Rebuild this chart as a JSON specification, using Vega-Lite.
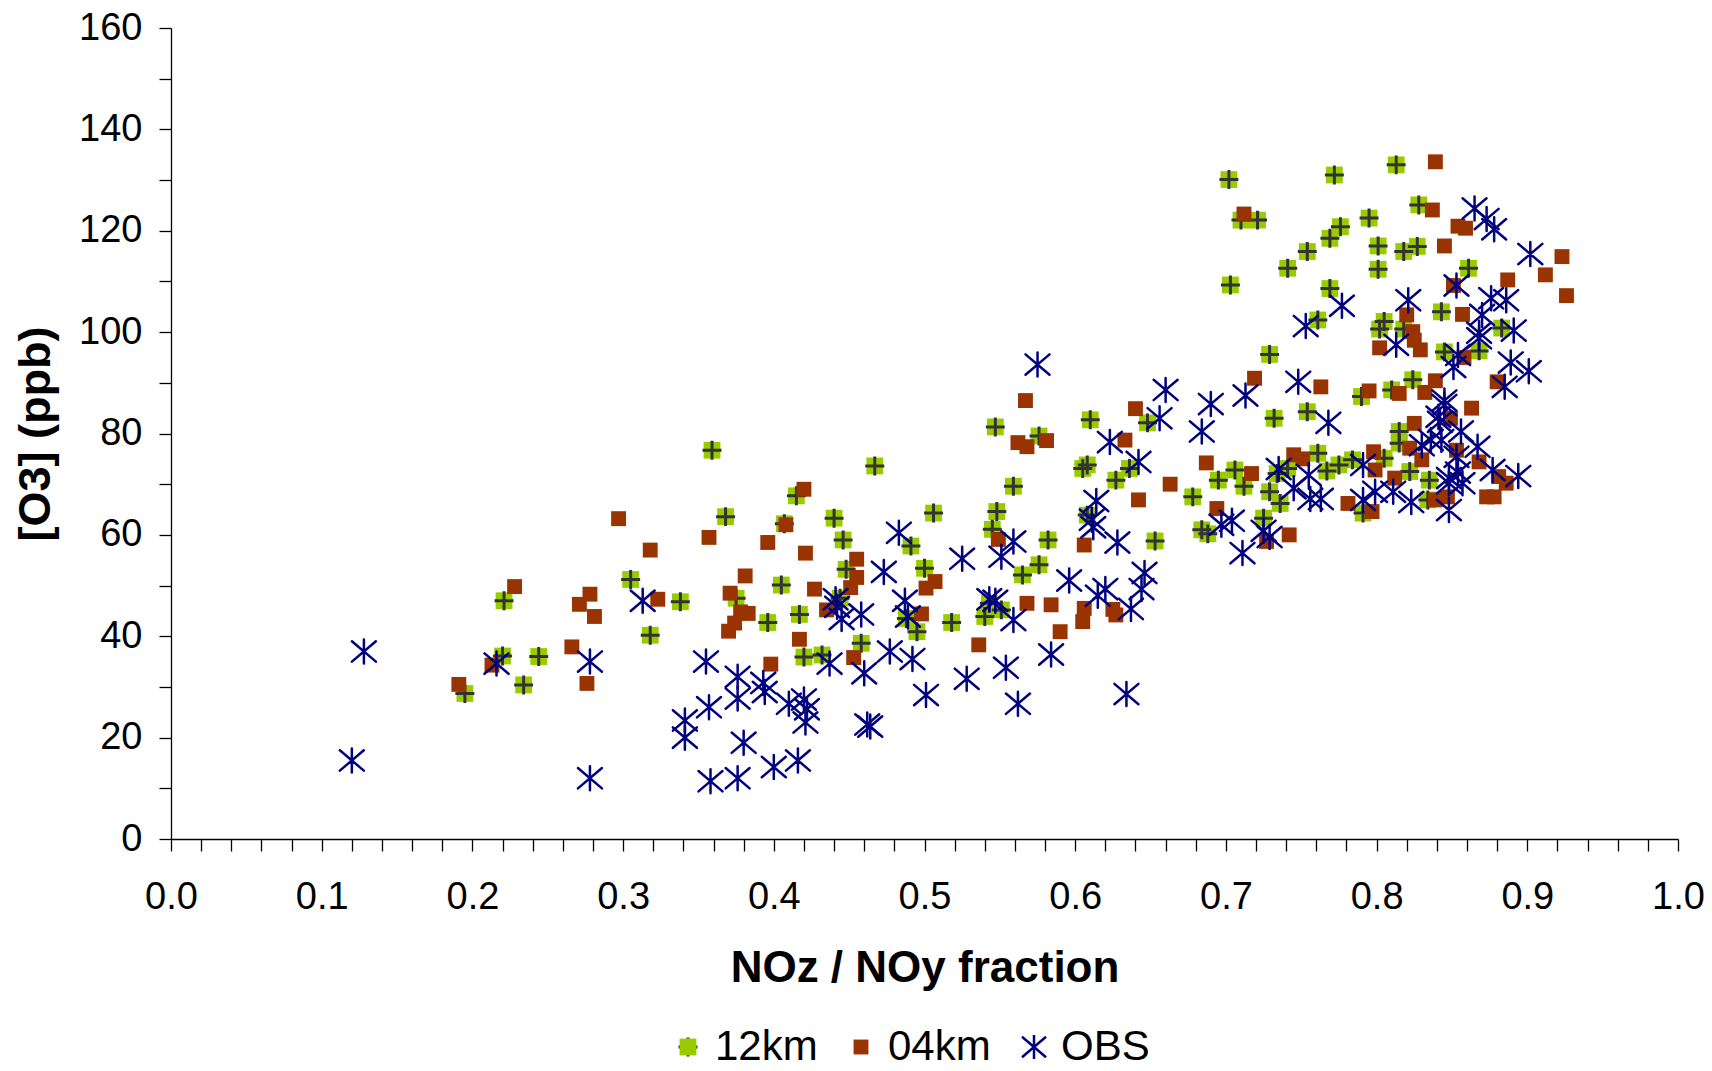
{
"$schema": "https://vega.github.io/schema/vega-lite/v6.json",
"width": 1507, "height": 811,
"autosize": {"type": "none"},
"padding": {"left": 171, "top": 28, "right": 34, "bottom": 232},
"background": "white",
"config": {"view": {"stroke": null}, "font": "Liberation Sans"},
"datasets": {
"pts": [
{"s":"12km","x":0.195,"y":28.7},{"s":"12km","x":0.220,"y":36.1},{"s":"12km","x":0.221,"y":47},{"s":"12km","x":0.234,"y":30.4},{"s":"12km","x":0.244,"y":36},
{"s":"12km","x":0.305,"y":51.2},{"s":"12km","x":0.318,"y":40.2},{"s":"12km","x":0.338,"y":46.8},{"s":"12km","x":0.359,"y":76.7},{"s":"12km","x":0.368,"y":63.6},
{"s":"12km","x":0.375,"y":47.5},{"s":"12km","x":0.396,"y":42.7},{"s":"12km","x":0.405,"y":50.1},{"s":"12km","x":0.407,"y":62.2},{"s":"12km","x":0.415,"y":67.7},
{"s":"12km","x":0.417,"y":44.3},{"s":"12km","x":0.420,"y":35.9},{"s":"12km","x":0.432,"y":36.3},{"s":"12km","x":0.440,"y":63.3},{"s":"12km","x":0.444,"y":47.5},
{"s":"12km","x":0.446,"y":59},{"s":"12km","x":0.448,"y":53.2},{"s":"12km","x":0.458,"y":38.6},{"s":"12km","x":0.467,"y":73.6},{"s":"12km","x":0.488,"y":43.5},
{"s":"12km","x":0.491,"y":57.8},{"s":"12km","x":0.495,"y":40.9},{"s":"12km","x":0.500,"y":53.4},{"s":"12km","x":0.506,"y":64.3},{"s":"12km","x":0.518,"y":42.7},
{"s":"12km","x":0.540,"y":43.9},{"s":"12km","x":0.543,"y":46.5},{"s":"12km","x":0.545,"y":61.1},{"s":"12km","x":0.547,"y":81.3},{"s":"12km","x":0.548,"y":64.6},
{"s":"12km","x":0.551,"y":45.2},{"s":"12km","x":0.559,"y":69.6},{"s":"12km","x":0.565,"y":52.1},{"s":"12km","x":0.576,"y":79.5},{"s":"12km","x":0.576,"y":54.1},
{"s":"12km","x":0.582,"y":59},{"s":"12km","x":0.605,"y":73.1},{"s":"12km","x":0.608,"y":73.8},{"s":"12km","x":0.608,"y":63.9},{"s":"12km","x":0.610,"y":82.7},
{"s":"12km","x":0.627,"y":70.8},{"s":"12km","x":0.636,"y":73.1},{"s":"12km","x":0.648,"y":82.1},{"s":"12km","x":0.653,"y":58.8},{"s":"12km","x":0.678,"y":67.5},
{"s":"12km","x":0.684,"y":61},{"s":"12km","x":0.688,"y":60.2},{"s":"12km","x":0.695,"y":70.8},{"s":"12km","x":0.702,"y":130.1},{"s":"12km","x":0.703,"y":109.3},
{"s":"12km","x":0.706,"y":72.8},{"s":"12km","x":0.710,"y":122.1},{"s":"12km","x":0.712,"y":69.6},{"s":"12km","x":0.721,"y":122.1},{"s":"12km","x":0.725,"y":63.3},
{"s":"12km","x":0.729,"y":95.6},{"s":"12km","x":0.729,"y":68.5},{"s":"12km","x":0.732,"y":83},{"s":"12km","x":0.734,"y":72.1},{"s":"12km","x":0.736,"y":66.2},
{"s":"12km","x":0.741,"y":73.1},{"s":"12km","x":0.741,"y":112.6},{"s":"12km","x":0.754,"y":115.9},{"s":"12km","x":0.754,"y":84.3},{"s":"12km","x":0.761,"y":102.4},
{"s":"12km","x":0.761,"y":76.1},{"s":"12km","x":0.767,"y":72.6},{"s":"12km","x":0.769,"y":118.5},{"s":"12km","x":0.769,"y":108.6},{"s":"12km","x":0.772,"y":131},
{"s":"12km","x":0.775,"y":73.8},{"s":"12km","x":0.776,"y":120.8},{"s":"12km","x":0.784,"y":74.8},{"s":"12km","x":0.790,"y":87.3},{"s":"12km","x":0.791,"y":64.3},
{"s":"12km","x":0.795,"y":122.5},{"s":"12km","x":0.801,"y":117},{"s":"12km","x":0.801,"y":112.4},{"s":"12km","x":0.802,"y":100.6},{"s":"12km","x":0.805,"y":102.1},
{"s":"12km","x":0.805,"y":75.1},{"s":"12km","x":0.810,"y":88.6},{"s":"12km","x":0.813,"y":133},{"s":"12km","x":0.815,"y":80.4},{"s":"12km","x":0.815,"y":78.1},
{"s":"12km","x":0.818,"y":115.9},{"s":"12km","x":0.818,"y":100.6},{"s":"12km","x":0.822,"y":72.5},{"s":"12km","x":0.824,"y":90.6},{"s":"12km","x":0.827,"y":116.9},
{"s":"12km","x":0.828,"y":125.1},{"s":"12km","x":0.834,"y":66.9},{"s":"12km","x":0.835,"y":70.8},{"s":"12km","x":0.843,"y":104},{"s":"12km","x":0.845,"y":96.1},
{"s":"12km","x":0.861,"y":112.6},{"s":"12km","x":0.868,"y":96.3},{"s":"12km","x":0.883,"y":100.8},
{"s":"04km","x":0.191,"y":30.5},{"s":"04km","x":0.213,"y":34.3},{"s":"04km","x":0.228,"y":49.8},{"s":"04km","x":0.266,"y":37.9},{"s":"04km","x":0.271,"y":46.3},
{"s":"04km","x":0.276,"y":30.7},{"s":"04km","x":0.278,"y":48.3},{"s":"04km","x":0.281,"y":43.9},{"s":"04km","x":0.297,"y":63.2},{"s":"04km","x":0.318,"y":57.0},
{"s":"04km","x":0.323,"y":47.3},{"s":"04km","x":0.357,"y":59.5},{"s":"04km","x":0.370,"y":41},{"s":"04km","x":0.371,"y":48.5},{"s":"04km","x":0.374,"y":42.6},
{"s":"04km","x":0.378,"y":44.8},{"s":"04km","x":0.381,"y":51.9},{"s":"04km","x":0.383,"y":44.5},{"s":"04km","x":0.396,"y":58.5},{"s":"04km","x":0.398,"y":34.5},
{"s":"04km","x":0.408,"y":62},{"s":"04km","x":0.417,"y":39.4},{"s":"04km","x":0.420,"y":69},{"s":"04km","x":0.421,"y":56.4},{"s":"04km","x":0.427,"y":49.3},
{"s":"04km","x":0.435,"y":45.2},{"s":"04km","x":0.451,"y":49.6},{"s":"04km","x":0.453,"y":35.8},{"s":"04km","x":0.455,"y":55.2},{"s":"04km","x":0.455,"y":51.6},
{"s":"04km","x":0.498,"y":44.4},{"s":"04km","x":0.501,"y":49.5},{"s":"04km","x":0.507,"y":50.8},{"s":"04km","x":0.536,"y":38.3},{"s":"04km","x":0.549,"y":59.1},
{"s":"04km","x":0.562,"y":78.2},{"s":"04km","x":0.567,"y":86.5},{"s":"04km","x":0.568,"y":77.4},{"s":"04km","x":0.568,"y":46.5},{"s":"04km","x":0.581,"y":78.6},
{"s":"04km","x":0.584,"y":46.2},{"s":"04km","x":0.590,"y":40.9},{"s":"04km","x":0.605,"y":42.9},{"s":"04km","x":0.606,"y":45.5},{"s":"04km","x":0.606,"y":58},
{"s":"04km","x":0.625,"y":45.3},{"s":"04km","x":0.627,"y":44.2},{"s":"04km","x":0.633,"y":78.7},{"s":"04km","x":0.640,"y":84.9},{"s":"04km","x":0.642,"y":66.9},
{"s":"04km","x":0.663,"y":70},{"s":"04km","x":0.687,"y":74.2},{"s":"04km","x":0.694,"y":65.2},{"s":"04km","x":0.712,"y":123.3},{"s":"04km","x":0.717,"y":72.1},
{"s":"04km","x":0.719,"y":90.9},{"s":"04km","x":0.727,"y":58.7},{"s":"04km","x":0.742,"y":60},{"s":"04km","x":0.745,"y":75.8},{"s":"04km","x":0.751,"y":75},
{"s":"04km","x":0.763,"y":89.2},{"s":"04km","x":0.781,"y":66.2},{"s":"04km","x":0.795,"y":88.4},{"s":"04km","x":0.797,"y":64.6},{"s":"04km","x":0.798,"y":76.4},
{"s":"04km","x":0.799,"y":72.8},{"s":"04km","x":0.802,"y":96.9},{"s":"04km","x":0.812,"y":71.2},{"s":"04km","x":0.815,"y":87.9},{"s":"04km","x":0.820,"y":103.4},
{"s":"04km","x":0.822,"y":77.1},{"s":"04km","x":0.824,"y":100.1},{"s":"04km","x":0.825,"y":98.4},{"s":"04km","x":0.825,"y":82},{"s":"04km","x":0.829,"y":96.5},
{"s":"04km","x":0.830,"y":74.8},{"s":"04km","x":0.832,"y":88.1},{"s":"04km","x":0.837,"y":124.1},{"s":"04km","x":0.839,"y":133.6},{"s":"04km","x":0.839,"y":90.4},
{"s":"04km","x":0.839,"y":66.9},{"s":"04km","x":0.845,"y":117},{"s":"04km","x":0.847,"y":67.5},{"s":"04km","x":0.849,"y":83},{"s":"04km","x":0.851,"y":109.2},
{"s":"04km","x":0.853,"y":76.7},{"s":"04km","x":0.854,"y":120.9},{"s":"04km","x":0.857,"y":103.5},{"s":"04km","x":0.858,"y":95},{"s":"04km","x":0.859,"y":120.5},
{"s":"04km","x":0.863,"y":85},{"s":"04km","x":0.868,"y":74.4},{"s":"04km","x":0.873,"y":67.5},{"s":"04km","x":0.878,"y":67.5},{"s":"04km","x":0.880,"y":90.2},
{"s":"04km","x":0.881,"y":71.5},{"s":"04km","x":0.886,"y":70.2},{"s":"04km","x":0.887,"y":110.3},{"s":"04km","x":0.912,"y":111.3},{"s":"04km","x":0.923,"y":114.9},
{"s":"04km","x":0.926,"y":107.2},
{"s":"OBS","x":0.120,"y":15.5},{"s":"OBS","x":0.128,"y":37},{"s":"OBS","x":0.216,"y":34.6},{"s":"OBS","x":0.278,"y":12},{"s":"OBS","x":0.278,"y":35},
{"s":"OBS","x":0.313,"y":47},{"s":"OBS","x":0.341,"y":23.4},{"s":"OBS","x":0.341,"y":20},{"s":"OBS","x":0.355,"y":35},{"s":"OBS","x":0.357,"y":26},
{"s":"OBS","x":0.358,"y":11.4},{"s":"OBS","x":0.376,"y":32},{"s":"OBS","x":0.376,"y":27.7},{"s":"OBS","x":0.376,"y":12},{"s":"OBS","x":0.380,"y":19},
{"s":"OBS","x":0.393,"y":30.8},{"s":"OBS","x":0.394,"y":29},{"s":"OBS","x":0.400,"y":14.2},{"s":"OBS","x":0.410,"y":26.7},{"s":"OBS","x":0.416,"y":15.5},
{"s":"OBS","x":0.420,"y":27.5},{"s":"OBS","x":0.421,"y":23},{"s":"OBS","x":0.422,"y":25.6},{"s":"OBS","x":0.437,"y":34.6},{"s":"OBS","x":0.441,"y":47.3},
{"s":"OBS","x":0.442,"y":45.8},{"s":"OBS","x":0.445,"y":43.4},{"s":"OBS","x":0.458,"y":44.3},{"s":"OBS","x":0.460,"y":32.7},{"s":"OBS","x":0.462,"y":22.6},
{"s":"OBS","x":0.464,"y":22.2},{"s":"OBS","x":0.473,"y":52.7},{"s":"OBS","x":0.477,"y":37},{"s":"OBS","x":0.483,"y":60.4},{"s":"OBS","x":0.487,"y":47},
{"s":"OBS","x":0.489,"y":43.9},{"s":"OBS","x":0.492,"y":35.5},{"s":"OBS","x":0.501,"y":28.4},{"s":"OBS","x":0.525,"y":55.3},{"s":"OBS","x":0.528,"y":31.6},
{"s":"OBS","x":0.543,"y":47.3},{"s":"OBS","x":0.547,"y":47},{"s":"OBS","x":0.551,"y":55.7},{"s":"OBS","x":0.554,"y":33.8},{"s":"OBS","x":0.559,"y":58.7},
{"s":"OBS","x":0.559,"y":43.2},{"s":"OBS","x":0.562,"y":26.7},{"s":"OBS","x":0.575,"y":93.6},{"s":"OBS","x":0.584,"y":36.4},{"s":"OBS","x":0.596,"y":51},
{"s":"OBS","x":0.611,"y":63},{"s":"OBS","x":0.612,"y":61.5},{"s":"OBS","x":0.614,"y":66.7},{"s":"OBS","x":0.615,"y":48},{"s":"OBS","x":0.620,"y":49.3},
{"s":"OBS","x":0.623,"y":78.3},{"s":"OBS","x":0.628,"y":58.5},{"s":"OBS","x":0.634,"y":28.6},{"s":"OBS","x":0.637,"y":45.4},{"s":"OBS","x":0.642,"y":74.4},
{"s":"OBS","x":0.644,"y":49.3},{"s":"OBS","x":0.646,"y":52.5},{"s":"OBS","x":0.656,"y":83},{"s":"OBS","x":0.660,"y":88.6},{"s":"OBS","x":0.684,"y":80.4},
{"s":"OBS","x":0.690,"y":85.8},{"s":"OBS","x":0.697,"y":62},{"s":"OBS","x":0.704,"y":62.8},{"s":"OBS","x":0.711,"y":56.4},{"s":"OBS","x":0.713,"y":87.5},
{"s":"OBS","x":0.725,"y":60.8},{"s":"OBS","x":0.729,"y":59.6},{"s":"OBS","x":0.735,"y":73},{"s":"OBS","x":0.745,"y":69.2},{"s":"OBS","x":0.748,"y":90.2},
{"s":"OBS","x":0.753,"y":101.2},{"s":"OBS","x":0.755,"y":71.8},{"s":"OBS","x":0.756,"y":67.1},{"s":"OBS","x":0.763,"y":67.1},{"s":"OBS","x":0.768,"y":82.1},
{"s":"OBS","x":0.777,"y":105.2},{"s":"OBS","x":0.791,"y":73.8},{"s":"OBS","x":0.791,"y":66.9},{"s":"OBS","x":0.799,"y":68.5},{"s":"OBS","x":0.811,"y":68.5},
{"s":"OBS","x":0.813,"y":97.5},{"s":"OBS","x":0.821,"y":106.3},{"s":"OBS","x":0.823,"y":66.5},{"s":"OBS","x":0.830,"y":77.7},{"s":"OBS","x":0.836,"y":78.7},
{"s":"OBS","x":0.843,"y":78.7},{"s":"OBS","x":0.842,"y":82.3},{"s":"OBS","x":0.845,"y":85.6},{"s":"OBS","x":0.845,"y":86.5},{"s":"OBS","x":0.841,"y":83.3},
{"s":"OBS","x":0.848,"y":64.9},{"s":"OBS","x":0.848,"y":70.2},{"s":"OBS","x":0.848,"y":71.2},{"s":"OBS","x":0.853,"y":75.4},{"s":"OBS","x":0.853,"y":109.2},
{"s":"OBS","x":0.851,"y":93.1},{"s":"OBS","x":0.854,"y":95.5},{"s":"OBS","x":0.854,"y":72.3},{"s":"OBS","x":0.856,"y":80.4},{"s":"OBS","x":0.857,"y":70.2},
{"s":"OBS","x":0.865,"y":124.4},{"s":"OBS","x":0.867,"y":77.4},{"s":"OBS","x":0.868,"y":99.9},{"s":"OBS","x":0.868,"y":98.8},{"s":"OBS","x":0.870,"y":103.4},
{"s":"OBS","x":0.873,"y":122.3},{"s":"OBS","x":0.876,"y":106.7},{"s":"OBS","x":0.877,"y":72.8},{"s":"OBS","x":0.878,"y":120.3},{"s":"OBS","x":0.885,"y":89.2},
{"s":"OBS","x":0.886,"y":106.3},{"s":"OBS","x":0.889,"y":94.0},{"s":"OBS","x":0.891,"y":100.3},{"s":"OBS","x":0.894,"y":71.6},{"s":"OBS","x":0.901,"y":92.3},
{"s":"OBS","x":0.902,"y":115.4}
]
},
"data": {"name": "pts"},
"encoding": {
  "x": {"field": "x", "type": "quantitative",
    "scale": {"domain": [0, 1], "nice": false, "zero": false},
    "axis": {"title": "NOz / NOy fraction",
      "values": [0,0.02,0.04,0.06,0.08,0.1,0.12,0.14,0.16,0.18,0.2,0.22,0.24,0.26,0.28,0.3,0.32,0.34,0.36,0.38,0.4,0.42,0.44,0.46,0.48,0.5,0.52,0.54,0.56,0.58,0.6,0.62,0.64,0.66,0.68,0.7,0.72,0.74,0.76,0.78,0.8,0.82,0.84,0.86,0.88,0.9,0.92,0.94,0.96,0.98,1.0],
      "format": ".1f",
      "labelExpr": "round(datum.value*50) % 5 === 0 ? datum.label : ''",
      "labelFont": "Liberation Sans", "labelFontSize": 38, "labelColor": "#000000",
      "labelPadding": 27, "labelFlush": false, "labelOverlap": false,
      "tickSize": 12, "tickColor": "#000000", "tickWidth": 1.3,
      "domainColor": "#000000", "domainWidth": 1.3, "grid": false,
      "titleFont": "Liberation Sans", "titleFontSize": 44, "titleFontWeight": "bold", "titleColor": "#000000",
      "titleBaseline": "alphabetic", "titleX": 753.5, "titleY": 142,
      "encode": {"ticks": {"update": {"y": {"value": -9}, "y2": {"signal": "round(datum.value*50) % 5 === 0 ? 12 : 9"}}}}
    }},
  "y": {"field": "y", "type": "quantitative",
    "scale": {"domain": [0, 160], "nice": false, "zero": true},
    "axis": {"title": "[O3] (ppb)",
      "values": [0,10,20,30,40,50,60,70,80,90,100,110,120,130,140,150,160],
      "format": "d",
      "labelExpr": "datum.value % 20 === 0 ? datum.label : ''",
      "labelFont": "Liberation Sans", "labelFontSize": 38, "labelColor": "#000000",
      "labelPadding": 17, "labelOverlap": false, "labelFlush": false,
      "tickSize": 12, "tickColor": "#000000", "tickWidth": 1.3,
      "domainColor": "#000000", "domainWidth": 1.3, "grid": false,
      "titleFont": "Liberation Sans", "titleFontSize": 45, "titleFontWeight": "bold", "titleColor": "#000000",
      "titleBaseline": "alphabetic", "titleX": -122, "titleY": 405.5,
      "encode": {"ticks": {"update": {"x": {"value": 9}, "x2": {"signal": "datum.value % 20 === 0 ? -12 : -9"}}}}
    }}
},
"layer": [
  {"transform": [{"filter": "datum.s === '12km'"}],
   "mark": {"type": "point", "shape": "M-0.7,-0.7H0.7V0.7H-0.7Z", "size": 576, "filled": true, "fill": "#99CC00", "opacity": 1, "strokeWidth": 0}},
  {"transform": [{"filter": "datum.s === '12km'"}],
   "mark": {"type": "point", "filled": false, "stroke": "#333333", "strokeWidth": 3, "size": 576, "opacity": 1},
   "encoding": {"shape": {"field": "s", "type": "nominal",
     "scale": {"domain": ["12km"], "range": ["M-0.79,0H0.79M0,-0.79V0.79"]},
     "legend": {"title": null, "orient": "none", "legendX": 496, "legendY": 998, "direction": "horizontal",
       "symbolSize": 576, "symbolStrokeColor": "#333333", "symbolFillColor": "transparent", "symbolStrokeWidth": 3, "symbolOpacity": 1,
       "labelFont": "Liberation Sans", "labelFontSize": 42, "labelOpacity": 0, "labelOffset": 6, "columnPadding": 22, "padding": 0}}}},
  {"transform": [{"filter": "datum.s !== '12km'"}],
   "mark": {"type": "point", "filled": true, "size": 576, "opacity": 1, "strokeWidth": 2.5, "strokeCap": "round"},
   "encoding": {
     "fill": {"field": "s", "type": "nominal",
       "scale": {"domain": ["12km", "04km", "OBS"], "range": ["#99CC00", "#993300", "transparent"]},
       "legend": {"title": null, "orient": "none", "legendX": 496, "legendY": 998, "direction": "horizontal",
         "symbolSize": 576, "symbolStrokeWidth": 2.5, "symbolOpacity": 1,
         "labelFont": "Liberation Sans", "labelFontSize": 42, "labelColor": "#000000", "labelOffset": 6, "columnPadding": 22, "padding": 0}},
     "stroke": {"field": "s", "type": "nominal",
       "scale": {"domain": ["12km", "04km", "OBS"], "range": ["transparent", "transparent", "#000080"]},
       "legend": {"title": null, "orient": "none", "legendX": 496, "legendY": 998, "direction": "horizontal",
         "symbolSize": 576, "symbolStrokeWidth": 2.5, "symbolOpacity": 1,
         "labelFont": "Liberation Sans", "labelFontSize": 42, "labelColor": "#000000", "labelOffset": 6, "columnPadding": 22, "padding": 0}},
     "shape": {"field": "s", "type": "nominal",
       "scale": {"domain": ["12km", "04km", "OBS"], "range": ["M-0.7,-0.7H0.7V0.7H-0.7Z", "M-0.62,-0.62H0.62V0.62H-0.62Z", "M0,-1L0,1M-1,-0.85L1,0.85M-1,0.85L1,-0.85"]},
       "legend": {"title": null, "orient": "none", "legendX": 496, "legendY": 998, "direction": "horizontal",
         "symbolSize": 576, "symbolStrokeWidth": 2.5, "symbolOpacity": 1,
         "labelFont": "Liberation Sans", "labelFontSize": 42, "labelColor": "#000000", "labelOffset": 6, "columnPadding": 22, "padding": 0}}
   }}
],
"resolve": {"scale": {"fill": "independent", "stroke": "independent", "shape": "independent"}}
}
